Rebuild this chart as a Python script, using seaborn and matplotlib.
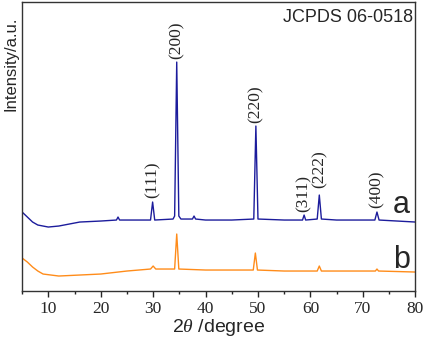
import numpy as np
import pandas as pd
import matplotlib
matplotlib.use("Agg")
import matplotlib.pyplot as plt
import seaborn as sns

# XRD patterns (2theta in degree, intensity in a.u.)
two_theta_a = [5, 6, 7, 8, 10, 12, 14, 16, 20, 23.0, 23.3, 23.6, 25, 29.5, 29.9, 30.3,
               33.8, 34.1, 34.5, 34.9, 35.3, 37.5, 37.8, 38.1, 40, 45, 49.2, 49.6, 50.0,
               55, 58.5, 58.8, 59.1, 61.3, 61.7, 62.1, 65, 72.3, 72.7, 73.1, 80]
intensity_a = [79, 74, 69, 66, 64, 65, 67, 69, 70, 71, 74, 71, 71, 71, 89, 71,
               72, 75, 229, 75, 72, 72, 75, 72, 71, 71, 72, 165, 72,
               71, 71, 76, 71, 72, 96, 72, 71, 71, 79, 71, 69]

two_theta_b = [5, 6, 7, 8, 9, 12, 16, 20, 25, 29.5, 30.0, 30.5, 34.1, 34.5, 34.9,
               40, 45, 49.1, 49.5, 49.9, 55, 61.3, 61.7, 62.1, 72.4, 72.7, 73.0, 80]
intensity_b = [33, 29, 24, 20, 17, 15, 16, 17, 20, 22, 25, 22, 22, 57, 22,
               21, 21, 21, 38, 21, 20, 20, 25, 20, 20, 22, 20, 19]

peak_pos = [29.9, 34.5, 49.6, 58.8, 61.7, 72.7]
peak_hkl = ["(111)", "(200)", "(220)", "(311)", "(222)", "(400)"]
label_base = [93, 232, 168, 79, 103, 83]

df_a = pd.DataFrame({"2theta": two_theta_a, "I": intensity_a})
df_b = pd.DataFrame({"2theta": two_theta_b, "I": intensity_b})

sns.set_style("ticks")
plt.rcParams["font.family"] = ["Liberation Sans", "DejaVu Sans"]
plt.rcParams["mathtext.fontset"] = "custom"
plt.rcParams["mathtext.it"] = "Liberation Serif:italic"

fig, ax = plt.subplots(figsize=(4.25, 3.44), dpi=100)
fig.subplots_adjust(left=0.052, right=0.977, top=0.994, bottom=0.154)

sns.lineplot(data=df_a, x="2theta", y="I", ax=ax, color="#1c1c9c", lw=1.0, sort=False)
sns.lineplot(data=df_b, x="2theta", y="I", ax=ax, color="#ff8c1a", lw=1.0, sort=False)

for pos, hkl, yb in zip(peak_pos, peak_hkl, label_base):
    ax.text(pos, yb, hkl, rotation=90, ha="center", va="bottom",
            fontsize=12.5, family="Liberation Serif")

ax.text(0.995, 0.975, "JCPDS 06-0518", transform=ax.transAxes, ha="right", va="top", fontsize=13)
ax.text(75.8, 78, "a", fontsize=22, ha="left", va="baseline")
ax.text(75.8, 23, "b", fontsize=22, ha="left", va="baseline")

ax.set_xlim(5, 80)
ax.set_ylim(0, 289)
ax.set_xticks([10, 20, 30, 40, 50, 60, 70, 80])
ax.set_xticks(np.arange(5, 81, 5), minor=True)
ax.set_yticks([])
ax.tick_params(axis="x", which="major", length=4, width=1, direction="out", labelsize=12.5, pad=3)
ax.tick_params(axis="x", which="minor", length=2.5, width=1, direction="out")
for lab in ax.get_xticklabels():
    lab.set_family("Liberation Serif")
for sp in ax.spines.values():
    sp.set_linewidth(1.0)
    sp.set_color("#333333")

ax.set_xlabel(r"2$\it{\theta}$ /degree", fontsize=14, labelpad=0)
ax.set_ylabel("Intensity/a.u.", fontsize=12, labelpad=2)
ax.yaxis.set_label_coords(-0.008, 0.785)

fig.savefig("out.png", dpi=100)
